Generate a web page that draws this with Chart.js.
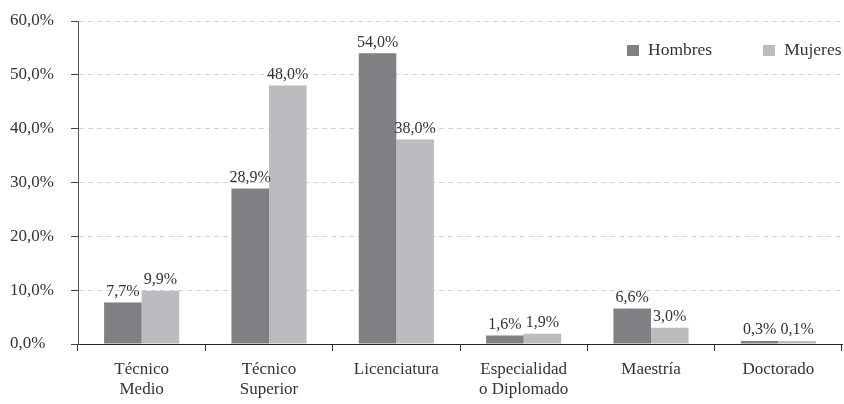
<!DOCTYPE html>
<html>
<head>
<meta charset="utf-8">
<script src="https://cdn.jsdelivr.net/npm/chart.js@4"></script>
<style>
  html, body { margin: 0; padding: 0; background: #fff; }
  #wrap { position: relative; width: 844px; height: 404px; }
  #leyenda { position: absolute; top: 39px; left: 627px; font: 17.5px "Liberation Serif", serif; color: #333; white-space: nowrap; }
  #leyenda span.caja { display: inline-block; width: 12px; height: 11px; margin-right: 9px; vertical-align: -1px; }
  #leyenda span.item { margin-right: 51px; }
</style>
</head>
<body>
<div id="wrap">
  <canvas id="grafica" width="844" height="404"></canvas>
  <div id="leyenda"></div>
</div>
<script>
// Datos
const categorias = [['Técnico', 'Medio'], ['Técnico', 'Superior'], 'Licenciatura', ['Especialidad', 'o Diplomado'], 'Maestría', 'Doctorado'];
const hombres = [7.7, 28.9, 54.0, 1.6, 6.6, 0.3];
const mujeres = [9.9, 48.0, 38.0, 1.9, 3.0, 0.1];
const ticksY = [0, 10, 20, 30, 40, 50, 60];

const colorHombres = '#808084';
const colorMujeres = '#bbbcc0';
const fuente = '"Liberation Serif", serif';

const formatoPct = v => v.toFixed(1).replace('.', ',') + '%';

// Leyenda en HTML
document.getElementById('leyenda').innerHTML =
    `<span class="item"><span class="caja" style="background:${colorHombres}"></span>Hombres</span>` +
    `<span><span class="caja" style="background:${colorMujeres}"></span>Mujeres</span>`;

// Etiquetas de valor encima de cada barra
const etiquetasValor = {
    id: 'etiquetasValor',
    afterDatasetsDraw(chart) {
        const ctx = chart.ctx;
        ctx.save();
        ctx.font = '16px ' + fuente;
        ctx.fillStyle = '#333';
        ctx.textAlign = 'center';
        ctx.textBaseline = 'bottom';
        chart.data.datasets.forEach((ds, i) => {
            chart.getDatasetMeta(i).data.forEach((bar, j) => {
                ctx.fillText(formatoPct(ds.data[j]), bar.x, bar.y - 3);
            });
        });
        ctx.restore();
    }
};

new Chart(document.getElementById('grafica').getContext('2d'), {
    type: 'bar',
    data: {
        labels: categorias,
        datasets: [
            { label: 'Hombres', data: hombres, backgroundColor: colorHombres },
            { label: 'Mujeres', data: mujeres, backgroundColor: colorMujeres }
        ]
    },
    options: {
        responsive: false,
        animation: false,
        layout: { padding: { top: 21, right: 2, left: 10, bottom: 0 } },
        categoryPercentage: 0.59,
        barPercentage: 1,
        minBarLength: 3,
        plugins: {
            legend: { display: false },
            tooltip: { enabled: false }
        },
        scales: {
            x: {
                grid: { display: true, drawOnChartArea: false, tickLength: 7, tickColor: '#333', offset: true },
                border: { color: '#222', width: 1 },
                ticks: { font: { family: fuente, size: 17, lineHeight: 1.2 }, color: '#333', padding: 8, maxRotation: 0 },
                afterFit: s => { s.height = 60; }
            },
            y: {
                min: 0,
                max: 60,
                afterBuildTicks: s => { s.ticks = ticksY.map(v => ({ value: v })); },
                grid: {
                    color: '#d2d2d2',
                    tickColor: '#444',
                    tickLength: 7,
                    tickBorderDash: []
                },
                border: { color: '#555', width: 1, dash: [5, 4] },
                ticks: {
                    font: { family: fuente, size: 17 },
                    color: '#333',
                    padding: 1,
                    crossAlign: 'far',
                    callback: v => formatoPct(v)
                },
                afterFit: s => { s.width = 68; }
            }
        }
    },
    plugins: [etiquetasValor]
});
</script>
</body>
</html>
